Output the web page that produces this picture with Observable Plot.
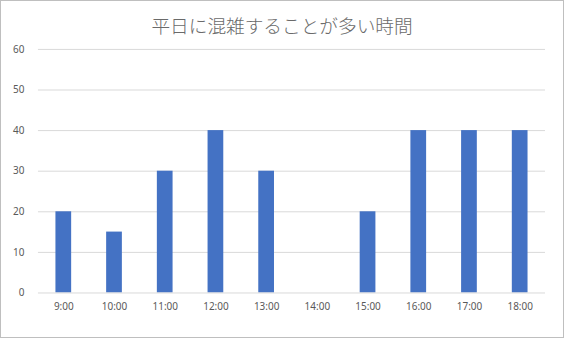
<!DOCTYPE html>
<html>
<head>
<meta charset="utf-8">
<script src="https://cdn.jsdelivr.net/npm/d3@7"></script>
<script src="https://cdn.jsdelivr.net/npm/@observablehq/plot@0.6"></script>
<style>
  html, body { margin: 0; padding: 0; background: #fff; }
  #wrap { position: relative; width: 564px; height: 338px; box-sizing: border-box; border: 1px solid #bfbfbf; overflow: hidden; }
  #title { position: absolute; left: 0; right: 0; top: 10px; text-align: center; font-family: "Noto Sans CJK JP", sans-serif; font-size: 18.67px; color: #6a6a6a; font-weight: 300; line-height: 28px; }
  #chart { position: absolute; left: -1px; top: -1px; }
</style>
</head>
<body>
<div id="wrap"><div id="title">平日に混雑することが多い時間</div><div id="chart"></div></div>
<script>
const categories = ["9:00","10:00","11:00","12:00","13:00","14:00","15:00","16:00","17:00","18:00"];
const values = [20, 15, 30, 40, 30, 0, 20, 40, 40, 40];
const yTicks = [0, 10, 20, 30, 40, 50, 60];

const data = categories.map((c, i) => ({time: c, value: values[i]}));

const boundaryTicks = (index, scales, vals, dims, context) => {
  const x = scales.x;
  const step = x.step, bw = x.bandwidth;
  const y0 = scales.y(0);
  const g = d3.select(context.document.createElementNS("http://www.w3.org/2000/svg", "g"));
  const edges = categories.map(c => x(c) - (step - bw) / 2);
  edges.push(x(categories[categories.length - 1]) + bw + (step - bw) / 2);
  g.selectAll("line").data(edges).join("line")
    .attr("x1", d => Math.round(d) + 0.5).attr("x2", d => Math.round(d) + 0.5)
    .attr("y1", y0).attr("y2", y0 + 5)
    .attr("stroke", "#d9d9d9").attr("stroke-width", 1);
  return g.node();
};

const chart = Plot.plot({
  width: 564,
  height: 338,
  marginLeft: 38,
  marginRight: 18,
  marginTop: 49,
  marginBottom: 45,
  style: {fontFamily: "'Noto Sans', sans-serif", fontSize: "10px", color: "#595959", background: "transparent"},
  x: {domain: categories, paddingInner: 0.69, paddingOuter: 0.345, round: false, label: null, tickSize: 0, tickPadding: 10},
  y: {domain: [0, 60], ticks: yTicks, label: null, tickSize: 0, tickPadding: 14},
  marks: [
    Plot.gridY(yTicks.filter(d => d > 0), {stroke: "#d9d9d9", strokeOpacity: 1}),
    Plot.barY(data, {x: "time", y: "value", fill: "#4472c4"}),
    Plot.ruleY([0], {stroke: "#d9d9d9"}),
    boundaryTicks
  ]
});
document.getElementById("chart").appendChild(chart);
</script>
</body>
</html>
